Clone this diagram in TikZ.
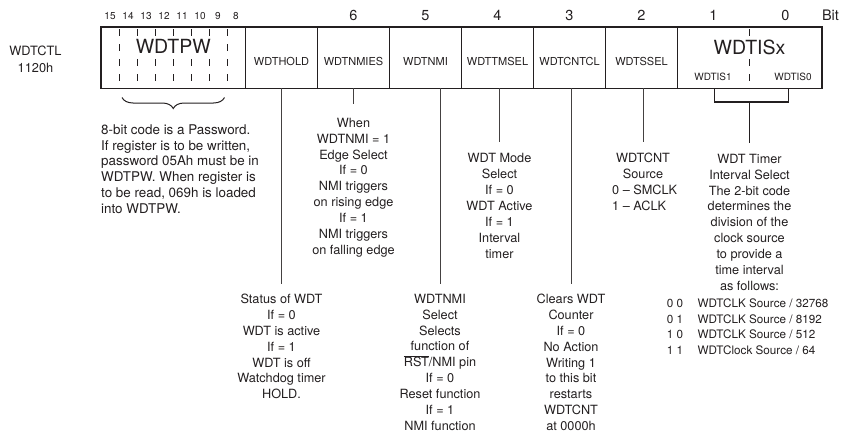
\documentclass[tikz,border=0pt]{standalone}
\usepackage{fontspec}
\setmainfont{TeX Gyre Heros}
\usetikzlibrary{decorations.pathreplacing}
\definecolor{ink}{HTML}{231F20}
\begin{document}
\begin{tikzpicture}[x=1pt,y=-1pt,
  every node/.style={text=ink, inner sep=0pt},
  cell/.style={draw=ink, line width=0.8pt, minimum height=61pt, inner sep=0pt},
  lbl/.style={font=\fontsize{11}{13}\selectfont},
  big/.style={font=\fontsize{19.5}{22}\selectfont},
  bitn/.style={font=\fontsize{14.5}{16}\selectfont},
  bits/.style={font=\fontsize{10}{11}\selectfont},
  subl/.style={font=\fontsize{10}{12}\selectfont},
  desc/.style={font=\fontsize{12.7}{15.9}\selectfont, align=center, anchor=north},
  conn/.style={draw=ink!85, line width=0.8pt},
  dashdiv/.style={draw=ink, line width=0.6pt, dash pattern=on 7pt off 8pt},
]
\useasboundingbox (0,0) rectangle (854,434);

% register label
\node[font=\fontsize{12.8}{17.5}\selectfont, align=center] (reg) at (35.5,59.5) {WDTCTL\\1120h};

% cells
\node[cell, minimum width=144.5pt] (pw) at (173.25,57.5) {};
\node[cell, minimum width=72pt] (hold) at (281.5,57.5) {};
\node[cell, minimum width=72pt] (nmies) at (353.5,57.5) {};
\node[cell, minimum width=72pt] (nmi) at (425.5,57.5) {};
\node[cell, minimum width=72pt] (tmsel) at (497.5,57.5) {};
\node[cell, minimum width=72pt] (cntcl) at (569.5,57.5) {};
\node[cell, minimum width=72pt] (ssel) at (641.5,57.5) {};
\node[cell, minimum width=144pt] (is) at (749.5,57.5) {};
\draw[ink, line width=1.5pt] (pw.north west) rectangle (is.south east);

% dashed bit dividers
\foreach \i in {1,...,7} \draw[dashdiv] (101+18*\i,29) -- (101+18*\i,87);
\draw[dashdiv] (749.5,29) -- (749.5,87);

% bit numbers
\foreach \n [count=\k from 0] in {15,14,13,12,11,10,9,8}
  \node[bits] (b\n) at (110+18*\k,15.7) {\n};
\node[bitn] (b6) at (353.5,15.7) {6};
\node[bitn] (b5) at (425.5,15.7) {5};
\node[bitn] (b4) at (497.5,15.7) {4};
\node[bitn] (b3) at (569.5,15.7) {3};
\node[bitn] (b2) at (641.5,15.7) {2};
\node[bitn] (b1) at (713.5,15.7) {1};
\node[bitn] (b0) at (785.5,15.7) {0};
\node[bitn] (bit) at (830.5,15.7) {Bit};

% cell labels
\node[big, fill=white] (pwl) at (173.25,46.5) {WDTPW};
\node[lbl] (holdl) at (281.5,61.5) {WDTHOLD};
\node[lbl] (nmiesl) at (353.5,61.5) {WDTNMIES};
\node[lbl] (nmil) at (425.5,61.5) {WDTNMI};
\node[lbl] (tmsell) at (497.5,61.5) {WDTTMSEL};
\node[lbl] (cntcll) at (569.5,61.5) {WDTCNTCL};
\node[lbl] (ssell) at (641.5,61.5) {WDTSSEL};
\node[big, fill=white] (isl) at (749.5,47) {WDTISx};
\node[subl] (is1) at (713,77) {WDTIS1};
\node[subl] (is0) at (793,77) {WDTIS0};

% password brace and text
\coordinate (bl) at (122,97.5);
\coordinate (br) at (224.5,97.5);
\draw[ink, line width=1pt, decorate, decoration={brace, mirror, amplitude=11pt}] (bl) -- (br);
\node[font=\fontsize{13.4}{15.8}\selectfont, align=left, anchor=north west] (pwtxt) at (101,124.4)
  {8-bit code is a Password.\\If register is to be written,\\password 05Ah must be in\\WDTPW. When register is\\to be read, 069h is loaded\\into WDTPW.};

% descriptions
\node[desc] (holdtxt) at (281.5,293.8) {Status of WDT\\If = 0\\WDT is active\\If = 1\\WDT is off\\Watchdog timer\\HOLD.};
\node[desc] (nmiestxt) at (353.5,117.8) {When\\WDTNMI = 1\\Edge Select\\If = 0\\NMI triggers\\on rising edge\\If = 1\\NMI triggers\\on falling edge};
\node[desc] (nmitxt) at (440,293.8) {WDTNMI\\Select\\Selects\\function of\\$\overline{\mbox{RST}}$/NMI pin\\If = 0\\Reset function\\If = 1\\NMI function};
\node[desc] (tmseltxt) at (499.5,153.2) {WDT Mode\\Select\\If = 0\\WDT Active\\If = 1\\Interval\\timer};
\node[desc] (cntcltxt) at (571,293.8) {Clears WDT\\Counter\\If = 0\\No Action\\Writing 1\\to this bit\\restarts\\WDTCNT\\at 0000h};
\node[desc] (sseltxt) at (643,153.2) {WDTCNT\\Source};
\node[desc, align=left, anchor=north west] (sselopt) at (612,185) {0 -- SMCLK\\1 -- ACLK};
\node[desc] (istxt) at (749.5,153.8) {WDT Timer\\Interval Select\\The 2-bit code\\determines the\\division of the\\clock source\\to provide a\\time interval\\as follows:};
\node[font=\fontsize{11.7}{15.6}\selectfont, align=left, anchor=north west] (istab) at (666.7,298.5)
  {\makebox[30.6pt][l]{0 0}WDTCLK Source / 32768\\
   \makebox[30.6pt][l]{0 1}WDTCLK Source / 8192\\
   \makebox[30.6pt][l]{1 0}WDTCLK Source / 512\\
   \makebox[30.6pt][l]{1 1}WDTClock Source / 64};

% connectors
\draw[conn, shorten >=10pt] (hold.south) -- (holdtxt.north);
\draw[conn, shorten >=13.8pt] (nmies.south) -- (nmiestxt.north);
\draw[conn, shorten >=10pt] ([xshift=14.5pt]nmi.south) -- (nmitxt.north);
\draw[conn, shorten >=11.5pt] ([xshift=2pt]tmsel.south) -- (tmseltxt.north);
\draw[conn, shorten >=10pt] ([xshift=1.5pt]cntcl.south) -- (cntcltxt.north);
\draw[conn, shorten >=11.5pt] ([xshift=1.5pt]ssel.south) -- (sseltxt.north);
\draw[ink, line width=1.3pt] ([xshift=-35pt]is.south) -- ++(0,13.7) -| ([xshift=39pt]is.south);
\draw[ink, line width=1.3pt, shorten >=10.5pt] ([yshift=-13.7pt]is.south) -- (istxt.north);
\end{tikzpicture}
\end{document}
